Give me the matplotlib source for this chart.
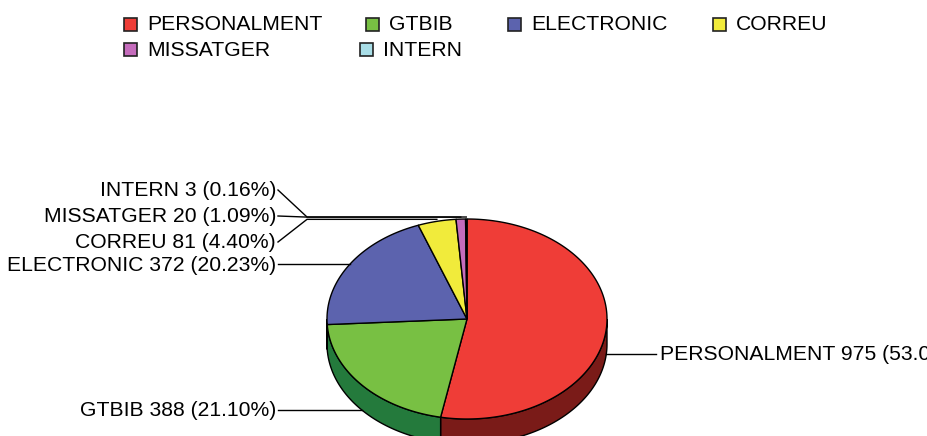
import numpy as np
import matplotlib
matplotlib.use('Agg')
import matplotlib.pyplot as plt
from matplotlib.patches import Polygon, Rectangle

categories = ['PERSONALMENT', 'GTBIB', 'ELECTRONIC', 'CORREU', 'MISSATGER', 'INTERN']
values = [975, 388, 372, 81, 20, 3]
top_colors = ['#EF3D37', '#78C043', '#5C63AE', '#F1EB3B', '#C56CBC', '#A9DEE7']
side_colors = ['#7A1B18', '#247A3C', '#2E3370', '#8A8520', '#6E3A6A', '#5A8A90']

# layout (pixels)
W, H = 928, 436
cx, cy, rx, ry, depth = 467, 319, 140, 100, 25
legend_pos = [(124, 25), (366, 25), (508, 25), (713, 25), (124, 50), (360, 50)]
label_side = ['R', 'L', 'L', 'L', 'L', 'L']
label_y = [354, 410, 266, 242, 216, 190]
left_text_x, right_text_x = 276, 660
fs = 15.2

plt.rcParams['font.family'] = ['Liberation Sans', 'DejaVu Sans']
fig = plt.figure(figsize=(W / 100, H / 100), dpi=100)
ax = fig.add_axes([0, 0, 1, 1])
ax.set_xlim(0, W)
ax.set_ylim(H, 0)
ax.axis('off')

total = sum(values)
fracs = np.array(values) / total
cum = np.concatenate([[0], np.cumsum(fracs)])
starts = 90 - 360 * cum[:-1]
ends = 90 - 360 * cum[1:]


def pt(theta, dy=0):
    t = np.radians(theta)
    return cx + rx * np.cos(t), cy - ry * np.sin(t) + dy


def arc(a, b, dy=0):
    n = max(2, int(abs(a - b) * 2) + 2)
    t = np.radians(np.linspace(a, b, n))
    return np.column_stack([cx + rx * np.cos(t), cy - ry * np.sin(t) + dy])


# sides (front half)
for a, b, sc in zip(starts, ends, side_colors):
    hi, lo = min(a, 0), max(b, -180)
    if hi > lo:
        poly = np.vstack([arc(hi, lo), arc(lo, hi, dy=depth)])
        ax.add_patch(Polygon(poly, closed=True, facecolor=sc, edgecolor='black', lw=1.0, zorder=2))

# top faces
for a, b, tc in zip(starts, ends, top_colors):
    poly = np.vstack([[cx, cy], arc(a, b)])
    ax.add_patch(Polygon(poly, closed=True, facecolor=tc, edgecolor='black', lw=1.0, zorder=3))

# labels and links
for i, (cat, v) in enumerate(zip(categories, values)):
    mid = (starts[i] + ends[i]) / 2
    ex, ey = pt(mid)
    if np.sin(np.radians(mid)) < 0:
        ey += depth
    pct = 100 * v / total
    txt = f'{cat} {v} ({pct:.2f}%)'
    ly = label_y[i]
    if label_side[i] == 'L':
        lx = left_text_x
        if ey < 230:
            elbow_x, elbow_y = lx + 31, ey - 2
            ax.plot([lx + 2, elbow_x, ex], [ly, elbow_y, elbow_y], color='black', lw=1.0, zorder=4)
        else:
            ax.plot([lx + 2, ex], [ey, ey], color='black', lw=1.0, zorder=4)
            ly = ey + 1
        ax.text(lx, ly, txt, ha='right', va='center', fontsize=fs, color='black')
    else:
        lx = right_text_x
        ax.plot([lx - 4, ex], [ey + 1, ey + 1], color='black', lw=1.0, zorder=4)
        ax.text(lx, ey + 1, txt, ha='left', va='center', fontsize=fs, color='black')

# legend
sq = 13
for (x, y), cat, tc in zip(legend_pos, categories, top_colors):
    ax.add_patch(Rectangle((x, y - sq / 2), sq, sq, facecolor=tc, edgecolor='#222222', lw=1.2, zorder=5))
    ax.text(x + sq + 10, y, cat, ha='left', va='center', fontsize=fs, color='black')

fig.savefig('out.png', dpi=100)
